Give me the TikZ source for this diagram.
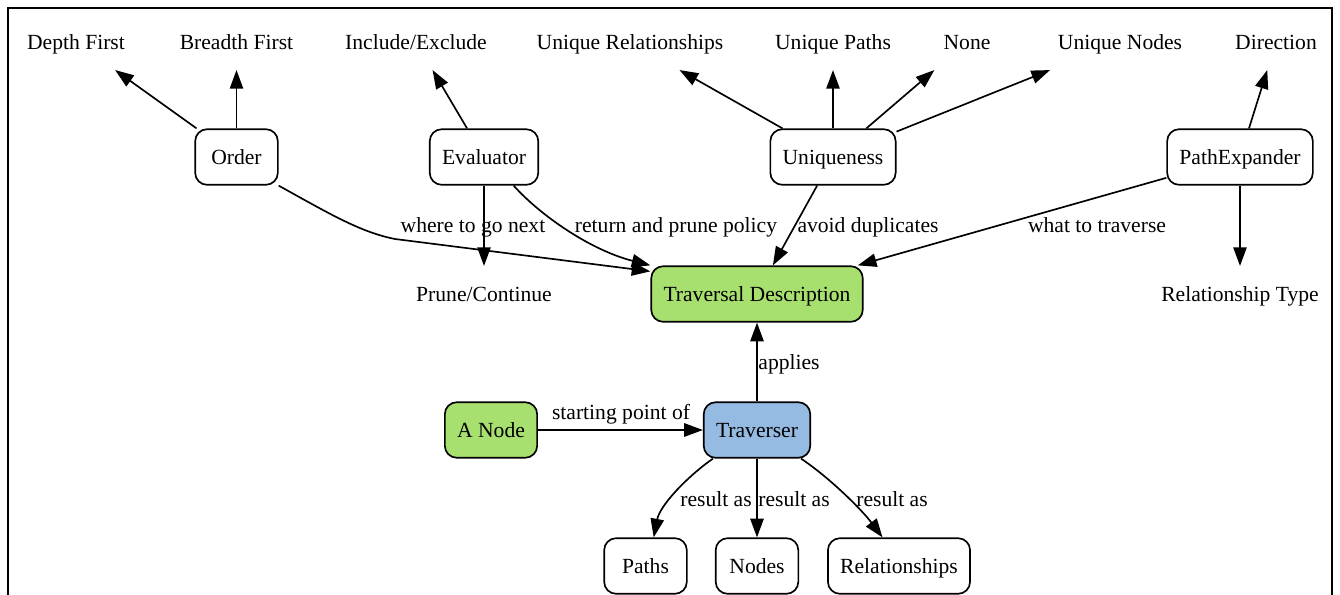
\documentclass[tikz,border=0pt]{standalone}
\usepackage{fontspec}
\setmainfont{Liberation Serif}
\usetikzlibrary{arrows.meta}
\definecolor{descgreen}{HTML}{A8E06F}
\definecolor{travblue}{HTML}{95BBE3}
\begin{document}
\begin{tikzpicture}[
    x=0.75pt, y=-0.75pt,
    every node/.style={font=\fontsize{16.2}{19}\selectfont, inner xsep=9.2pt, inner ysep=0pt,
        text height=12.5pt, text depth=2pt, minimum width=62pt, minimum height=41.7pt},
    box/.style={draw, rounded corners=9pt, line width=1.25pt},
    lbl/.style={inner sep=1pt, minimum width=0pt, minimum height=0pt},
    edge/.style={draw, line width=1.25pt, -{Triangle[length=14pt, width=10pt]}}
]
\useasboundingbox (0,0) rectangle (1340,594);
\draw[line width=1.3pt] (8,600) -- (8,8) -- (1332,8) -- (1332,600);

% top row
\node (depth) at (76,42) {Depth First};
\node (breadth) at (236.5,42) {Breadth First};
\node (incl) at (416,42) {Include/Exclude};
\node (urels) at (630,42) {Unique Relationships};
\node (upaths) at (833,42) {Unique Paths};
\node (none) at (967,42) {None};
\node (unodes) at (1120,42) {Unique Nodes};
\node (dir) at (1276,42) {Direction};

% policies
\node[box] (order) at (236.5,157) {Order};
\node[box] (eval) at (484,157) {Evaluator};
\node[box] (uniq) at (833,157) {Uniqueness};
\node[box] (pexp) at (1240,157) {PathExpander};

\node (prune) at (484,294) {Prune/Continue};
\node[box, fill=descgreen] (td) at (757,294) {Traversal Description};
\node (rtype) at (1240,294) {Relationship Type};

\node[box, fill=descgreen] (anode) at (491,430) {A Node};
\node[box, fill=travblue] (trav) at (757,430) {Traverser};

\node[box] (paths) at (645.5,566) {Paths};
\node[box] (nodes) at (757,566) {Nodes};
\node[box] (rels) at (899,566) {Relationships};

\draw[edge] (order) -- (depth);
\draw[edge] (order) -- (breadth);
\draw[edge] (eval) -- (incl);
\draw[edge] (uniq) -- (urels);
\draw[edge] (uniq) -- (upaths);
\draw[edge] (uniq) -- (none);
\draw[edge] (uniq) -- (unodes);
\draw[edge] (pexp) -- (dir);
\draw[edge] (pexp) -- (rtype);
\draw[edge] (eval) -- (prune);

\draw[edge] (order.south east) .. controls (330,214) and (360,232) .. (395,239) -- (td.168)
    node[lbl] at (473,225) {where to go next};
\draw[edge] (eval.-44) .. controls (540,215) and (590,250) .. (td.north west)
    node[lbl] at (676,225) {return and prune policy};
\draw[edge] (uniq) -- (td) node[lbl] at (868,225) {avoid duplicates};
\draw[edge] (pexp) -- (td) node[lbl] at (1097,225) {what to traverse};

\draw[edge] (trav) -- (td) node[lbl] at (789,362) {applies};
\draw[edge] (anode) -- (trav) node[lbl] at (621,412) {starting point of};

\draw[edge] (trav.-147) .. controls (688,476) and (660,505) .. (paths.74)
    node[lbl] at (716,499) {result as};
\draw[edge] (trav) -- (nodes) node[lbl] at (794,499) {result as};
\draw[edge] (trav.-33) .. controls (830,478) and (862,510) .. (rels.120)
    node[lbl] at (892,499) {result as};
\end{tikzpicture}
\end{document}
